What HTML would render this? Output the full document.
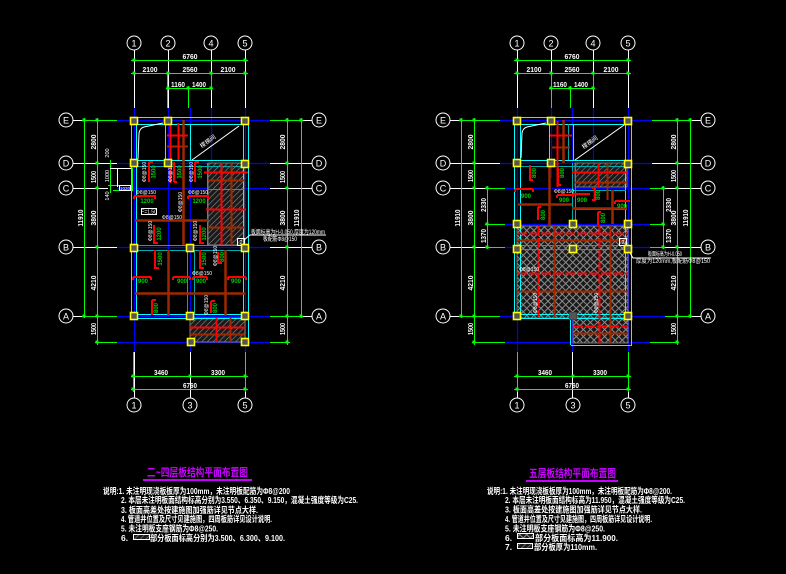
<!DOCTYPE html>
<html><head><meta charset="utf-8"><style>
html,body{margin:0;padding:0;background:#000;}
svg{display:block}
text{font-family:"Liberation Sans","Noto Sans CJK SC",sans-serif;}
</style></head><body>
<svg width="786" height="574" viewBox="0 0 786 574" xmlns="http://www.w3.org/2000/svg" xmlns:xlink="http://www.w3.org/1999/xlink">
<defs>
<pattern id="h1" width="4" height="4" patternUnits="userSpaceOnUse" patternTransform="rotate(45)">
<rect width="4" height="4" fill="#1a1a1a"/><line x1="0" y1="0" x2="0" y2="4" stroke="#8a8a8a" stroke-width="1.2"/>
</pattern>
<pattern id="h2" width="5" height="5" patternUnits="userSpaceOnUse" patternTransform="rotate(45)">
<rect width="5" height="5" fill="#1a1a1a"/><path d="M0 0.5H5M0.5 0V5" stroke="#8c8c8c" stroke-width="1" fill="none"/>
</pattern>
<rect id="tk" x="-1.5" y="-1.5" width="3" height="3" fill="#0f0"/>
<rect id="col" x="-3.5" y="-3.5" width="7" height="7" fill="#555" stroke="#ff0" stroke-width="1.6"/>
<circle id="ax" r="7" fill="#000" stroke="#fff" stroke-width="1"/>
</defs>
<rect width="786" height="574" fill="#000"/>

<!-- ================= LEFT PLAN ================= -->
<g>
<g stroke="#fff" stroke-width="1" fill="none">
<path d="M134.5 50V108 M168.5 50V108 M211.5 50V108 M245.5 50V108 M134.5 352V398 M190.5 352V398 M245.5 352V398"/>
<path d="M73 120.5H82 M303 120.5H312 M73 163.5H117 M270 163.5H312 M73 188.5H108 M270 188.5H312 M73 247.5H117 M270 247.5H312 M73 316.5H82 M303 316.5H312"/>
</g>
<g stroke="#00f" stroke-width="1.2" fill="none">
<path d="M134.5 108V352 M168.5 108V250 M190.5 108V352 M211.5 108V200 M245.5 108V352"/>
<path d="M117 120.5H270 M117 163.5H270 M117 188.5H270 M117 247.5H270 M117 316.5H270 M117 342.5H270"/>
</g>
<g stroke="#0f0" stroke-width="1" fill="none">
<path d="M131 60.5H248 M131 73.5H248 M166 88.5H213"/>
<path d="M167.5 72V108 M188.5 86V108 M211.5 72V90"/>
<path d="M84.5 118V318 M97.5 118V345 M287.5 118V345 M301.5 118V318"/>
<path d="M82 120.5H117 M270 120.5H303 M82 316.5H117 M270 316.5H303 M95 342.5H117 M270 342.5H290"/>
<path d="M131 376.5H248 M131 389.5H248 M133.5 352V392 M245.5 352V392"/>
<path d="M110.5 160V193 M132.5 168V190 M108 185.5H133 M113 190.5H133"/>
</g>
<g stroke="#fff" fill="none"><path d="M110 168.5H132 M117.5 168V187"/><rect x="119.5" y="185.5" width="11" height="5"/></g>
<text x="125" y="190" font-size="4.5" fill="#fff" text-anchor="middle">1020</text>
<g fill="#fff" font-size="5.5" text-anchor="middle">
<text transform="translate(109 153) rotate(-90)">200</text>
<text transform="translate(109 176) rotate(-90)">1000</text>
<text transform="translate(109 196) rotate(-90)">140</text>
</g>
<use href="#tk" x="134" y="60"/><use href="#tk" x="245" y="60"/>
<use href="#tk" x="134" y="73"/><use href="#tk" x="168" y="73"/><use href="#tk" x="211" y="73"/><use href="#tk" x="245" y="73"/>
<use href="#tk" x="168" y="88"/><use href="#tk" x="188" y="88"/><use href="#tk" x="211" y="88"/>
<use href="#tk" x="84" y="120"/><use href="#tk" x="84" y="316"/>
<use href="#tk" x="97" y="120"/><use href="#tk" x="97" y="163"/><use href="#tk" x="97" y="188"/><use href="#tk" x="97" y="247"/><use href="#tk" x="97" y="316"/><use href="#tk" x="97" y="342"/>
<use href="#tk" x="287" y="120"/><use href="#tk" x="287" y="163"/><use href="#tk" x="287" y="188"/><use href="#tk" x="287" y="247"/><use href="#tk" x="287" y="316"/><use href="#tk" x="287" y="342"/>
<use href="#tk" x="301" y="120"/><use href="#tk" x="301" y="316"/>
<use href="#tk" x="133" y="376"/><use href="#tk" x="190" y="376"/><use href="#tk" x="245" y="376"/><use href="#tk" x="133" y="389"/><use href="#tk" x="245" y="389"/>
<g fill="#fff" font-size="7.5" text-anchor="middle" font-weight="bold">
<text x="190" y="59" textLength="15" lengthAdjust="spacingAndGlyphs">6760</text>
<text x="150" y="72" textLength="15" lengthAdjust="spacingAndGlyphs">2100</text>
<text x="190" y="72" textLength="15" lengthAdjust="spacingAndGlyphs">2560</text>
<text x="228" y="72" textLength="15" lengthAdjust="spacingAndGlyphs">2100</text>
<text x="178" y="87" textLength="14" lengthAdjust="spacingAndGlyphs">1160</text>
<text x="199" y="87" textLength="14" lengthAdjust="spacingAndGlyphs">1400</text>
<text x="161" y="375" textLength="14" lengthAdjust="spacingAndGlyphs">3460</text>
<text x="218" y="375" textLength="14" lengthAdjust="spacingAndGlyphs">3300</text>
<text x="190" y="388" textLength="14" lengthAdjust="spacingAndGlyphs">6760</text>
<text transform="translate(83 218) rotate(-90)" textLength="17" lengthAdjust="spacingAndGlyphs">11910</text>
<text transform="translate(96 142) rotate(-90)" textLength="15" lengthAdjust="spacingAndGlyphs">2800</text>
<text transform="translate(96 177) rotate(-90)" textLength="12" lengthAdjust="spacingAndGlyphs">1500</text>
<text transform="translate(96 218) rotate(-90)" textLength="15" lengthAdjust="spacingAndGlyphs">3800</text>
<text transform="translate(96 283) rotate(-90)" textLength="15" lengthAdjust="spacingAndGlyphs">4210</text>
<text transform="translate(96 329) rotate(-90)" textLength="12" lengthAdjust="spacingAndGlyphs">1500</text>
<text transform="translate(285 142) rotate(-90)" textLength="15" lengthAdjust="spacingAndGlyphs">2800</text>
<text transform="translate(285 177) rotate(-90)" textLength="12" lengthAdjust="spacingAndGlyphs">1500</text>
<text transform="translate(285 218) rotate(-90)" textLength="15" lengthAdjust="spacingAndGlyphs">3800</text>
<text transform="translate(285 283) rotate(-90)" textLength="15" lengthAdjust="spacingAndGlyphs">4210</text>
<text transform="translate(285 329) rotate(-90)" textLength="12" lengthAdjust="spacingAndGlyphs">1500</text>
<text transform="translate(299 218) rotate(-90)" textLength="17" lengthAdjust="spacingAndGlyphs">11910</text>
</g>
<use href="#ax" x="134" y="43"/><use href="#ax" x="168" y="43"/><use href="#ax" x="211" y="43"/><use href="#ax" x="245" y="43"/>
<use href="#ax" x="134" y="405"/><use href="#ax" x="190" y="405"/><use href="#ax" x="245" y="405"/>
<use href="#ax" x="66" y="120"/><use href="#ax" x="66" y="163"/><use href="#ax" x="66" y="188"/><use href="#ax" x="66" y="247"/><use href="#ax" x="66" y="316"/>
<use href="#ax" x="319" y="120"/><use href="#ax" x="319" y="163"/><use href="#ax" x="319" y="188"/><use href="#ax" x="319" y="247"/><use href="#ax" x="319" y="316"/>
<g fill="#fff" font-size="9" text-anchor="middle">
<text x="134" y="46.5">1</text><text x="168" y="46.5">2</text><text x="211" y="46.5">4</text><text x="245" y="46.5">5</text>
<text x="134" y="408.5">1</text><text x="190" y="408.5">3</text><text x="245" y="408.5">5</text>
<text x="66" y="123.5">E</text><text x="66" y="166.5">D</text><text x="66" y="191.5">C</text><text x="66" y="250.5">B</text><text x="66" y="319.5">A</text>
<text x="319" y="123.5">E</text><text x="319" y="166.5">D</text><text x="319" y="191.5">C</text><text x="319" y="250.5">B</text><text x="319" y="319.5">A</text>
</g>
<rect x="208" y="163" width="36" height="82" fill="url(#h1)" stroke="#777"/>
<rect x="190" y="318" width="55" height="24" fill="url(#h1)" stroke="#777"/>
<g fill="none" stroke="#0ff" stroke-width="1">
<rect x="131.5" y="117.5" width="117" height="201"/>
<rect x="136.5" y="124.5" width="107" height="190"/>
<path d="M136.5 160.5H243.5 M165.5 124.5V160.5 M190.5 124.5V160.5 M248.5 318V343"/>
</g>
<g fill="none" stroke="#0aa" stroke-width="1">
<path d="M137 166.5H243 M207.5 163V245 M137 245.5H243 M137 250.5H243 M187.5 250V315 M194.5 250V315 M208 189.5H244"/>
</g>
<g fill="none" stroke="#fff" stroke-width="1">
<path d="M138 159L139 133Q140 128 144 127L163 123"/>
<path d="M192 160L239 126"/>
</g>
<text transform="translate(209 143) rotate(-36)" font-size="6" fill="#fff" text-anchor="middle">楼梯间</text>
<g fill="none" stroke="#a02800" stroke-width="2.5">
<path d="M183.5 120V245 M135 220.5H208 M135 293.5H245 M168.5 250V316 M225.5 250V316"/>
<path d="M167 146.5H188 M208 180.5H244 M208 227.5H244 M231.5 163V245 M190 334.5H246 M230.5 318V342" stroke-width="2"/>
</g>
<g fill="none" stroke="#f00" stroke-width="2">
<path d="M170.5 122V183 M178.5 123V160 M167 135.5H188"/>
<path d="M204 172.5H248 M206 209.5H246 M221.5 163V245 M190 327.5H246 M216.5 318V342"/>
<path d="M149 162V182 M149 162H153 M174 162V182 M174 182H177 M195 162V182 M195 162H199"/>
<path d="M134 196H155V199 M134 196V199 M188 196H208V199 M188 196V199"/>
<path d="M154 225V243H158 M200 225V243H204"/>
<path d="M155 250V268H159 M200 250V268H204 M218 252V263H222"/>
<path d="M133 277H151 M133 277V280 M151 277V280 M173 277H190 M173 277V280 M190 277V280 M193 277H207 M193 277V280 M207 277V280 M228 277H246 M228 277V280 M246 277V280"/>
<path d="M152 300V315 M152 300H156 M211 301V313 M211 301H215"/>
</g>
<g fill="#0c0" font-size="6" font-weight="bold" text-anchor="middle">
<text transform="translate(155.5 172) rotate(-90)">1500</text>
<text transform="translate(181.5 172) rotate(-90)">1500</text>
<text transform="translate(202 172) rotate(-90)">1500</text>
<text x="147" y="203">1200</text><text x="199" y="203">1200</text>
<text transform="translate(161 234) rotate(-90)">1200</text>
<text transform="translate(206 234) rotate(-90)">1200</text>
<text transform="translate(162 259) rotate(-90)">1500</text>
<text transform="translate(206 259) rotate(-90)">1500</text>
<text transform="translate(224 257) rotate(-90)">800</text>
<text x="143" y="283">900</text><text x="182" y="283">900</text><text x="201" y="283">900</text><text x="236" y="283">900</text>
<text transform="translate(158 308) rotate(-90)">800</text>
<text transform="translate(217 308) rotate(-90)">800</text>
</g>
<g fill="#fff" font-size="5" text-anchor="middle">
<text transform="translate(146 172) rotate(-90)">Φ8@150</text>
<text transform="translate(172 172) rotate(-90)">Φ8@150</text>
<text transform="translate(193 172) rotate(-90)">Φ8@150</text>
<text x="146" y="194">Φ8@150</text><text x="198" y="194">Φ8@150</text>
<text transform="translate(182 202) rotate(-90)">Φ8@150</text>
<text x="172" y="219">Φ8@150</text>
<text transform="translate(152 231) rotate(-90)">Φ8@150</text>
<text transform="translate(197 231) rotate(-90)">Φ8@150</text>
<text transform="translate(217 256) rotate(-90)">Φ8@150</text>
<text x="202" y="275">Φ8@150</text>
<text transform="translate(208 305) rotate(-90)">Φ8@150</text>
</g>
<rect x="141.5" y="208.5" width="15" height="6" fill="none" stroke="#fff"/>
<text x="149" y="213.5" font-size="5" fill="#fff" text-anchor="middle">F=1.50</text>
<rect x="237.5" y="238.5" width="7" height="7" fill="none" stroke="#fff"/>
<text x="241" y="244" font-size="5.5" fill="#fff" text-anchor="middle">2</text>
<path d="M244 240L250 235H326" stroke="#fff" fill="none"/>
<text x="251" y="234" font-size="6" fill="#fff" textLength="74" lengthAdjust="spacingAndGlyphs">板面标高为H-0.050,厚度为120mm</text>
<text x="263" y="241" font-size="6" fill="#fff" textLength="34" lengthAdjust="spacingAndGlyphs">板配筋Φ8@150</text>
<use href="#col" x="134" y="121"/><use href="#col" x="168" y="121"/><use href="#col" x="245" y="121"/>
<use href="#col" x="134" y="163"/><use href="#col" x="168" y="163"/><use href="#col" x="245" y="164"/>
<use href="#col" x="134" y="248"/><use href="#col" x="190" y="248"/><use href="#col" x="245" y="248"/>
<use href="#col" x="134" y="316"/><use href="#col" x="190" y="316"/><use href="#col" x="245" y="316"/>
<use href="#col" x="191" y="342"/><use href="#col" x="245" y="342"/>
</g>

<!-- ================= RIGHT PLAN ================= -->
<g>
<g stroke="#fff" stroke-width="1" fill="none">
<path d="M517.5 50V108 M551.5 50V108 M593.5 50V108 M628.5 50V108 M517.5 352V398 M572.5 352V398 M628.5 352V398"/>
<path d="M450 120.5H459 M692 120.5H701 M450 163.5H500 M652 163.5H701 M450 188.5H485 M665 188.5H701 M450 247.5H485 M665 247.5H701 M450 316.5H459 M692 316.5H701"/>
</g>
<g stroke="#00f" stroke-width="1.2" fill="none">
<path d="M517.5 108V352 M551.5 108V178 M572.5 108V352 M593.5 108V200 M628.5 108V352"/>
<path d="M500 120.5H652 M500 163.5H652 M505 188.5H650 M505 224.5H650 M505 247.5H650 M500 316.5H665 M505 342.5H650"/>
</g>
<g stroke="#0f0" stroke-width="1" fill="none">
<path d="M514 60.5H631 M514 73.5H631 M549 88.5H595"/>
<path d="M551.5 72V108 M570.5 86V108 M593.5 72V90"/>
<path d="M461.5 118V318 M474.5 118V345 M487.5 186V249 M663.5 186V249 M677.5 118V345 M690.5 118V318"/>
<path d="M459 120.5H500 M652 120.5H692 M459 316.5H500 M665 316.5H692 M472 342.5H505 M650 342.5H679 M485 224.5H505 M650 224.5H665 M485 188.5H505 M650 188.5H665 M485 247.5H505 M650 247.5H665"/>
<path d="M514 376.5H631 M514 389.5H631 M517.5 352V392 M628.5 352V392"/>
</g>
<use href="#tk" x="517" y="60"/><use href="#tk" x="628" y="60"/>
<use href="#tk" x="517" y="73"/><use href="#tk" x="551" y="73"/><use href="#tk" x="593" y="73"/><use href="#tk" x="628" y="73"/>
<use href="#tk" x="551" y="88"/><use href="#tk" x="570" y="88"/><use href="#tk" x="593" y="88"/>
<use href="#tk" x="461" y="120"/><use href="#tk" x="461" y="316"/>
<use href="#tk" x="474" y="120"/><use href="#tk" x="474" y="163"/><use href="#tk" x="474" y="188"/><use href="#tk" x="474" y="247"/><use href="#tk" x="474" y="316"/><use href="#tk" x="474" y="342"/>
<use href="#tk" x="487" y="188"/><use href="#tk" x="487" y="224"/><use href="#tk" x="487" y="247"/>
<use href="#tk" x="663" y="188"/><use href="#tk" x="663" y="224"/><use href="#tk" x="663" y="247"/>
<use href="#tk" x="677" y="120"/><use href="#tk" x="677" y="163"/><use href="#tk" x="677" y="188"/><use href="#tk" x="677" y="247"/><use href="#tk" x="677" y="316"/><use href="#tk" x="677" y="342"/>
<use href="#tk" x="690" y="120"/><use href="#tk" x="690" y="316"/>
<use href="#tk" x="517" y="376"/><use href="#tk" x="573" y="376"/><use href="#tk" x="628" y="376"/><use href="#tk" x="517" y="389"/><use href="#tk" x="628" y="389"/>
<g fill="#fff" font-size="7.5" text-anchor="middle" font-weight="bold">
<text x="572" y="59" textLength="15" lengthAdjust="spacingAndGlyphs">6760</text>
<text x="534" y="72" textLength="15" lengthAdjust="spacingAndGlyphs">2100</text>
<text x="572" y="72" textLength="15" lengthAdjust="spacingAndGlyphs">2560</text>
<text x="611" y="72" textLength="15" lengthAdjust="spacingAndGlyphs">2100</text>
<text x="560" y="87" textLength="14" lengthAdjust="spacingAndGlyphs">1160</text>
<text x="581" y="87" textLength="14" lengthAdjust="spacingAndGlyphs">1400</text>
<text x="545" y="375" textLength="14" lengthAdjust="spacingAndGlyphs">3460</text>
<text x="600" y="375" textLength="14" lengthAdjust="spacingAndGlyphs">3300</text>
<text x="572" y="388" textLength="14" lengthAdjust="spacingAndGlyphs">6760</text>
<text transform="translate(460 218) rotate(-90)" textLength="17" lengthAdjust="spacingAndGlyphs">11910</text>
<text transform="translate(473 142) rotate(-90)" textLength="15" lengthAdjust="spacingAndGlyphs">2800</text>
<text transform="translate(473 176) rotate(-90)" textLength="12" lengthAdjust="spacingAndGlyphs">1500</text>
<text transform="translate(473 218) rotate(-90)" textLength="15" lengthAdjust="spacingAndGlyphs">3800</text>
<text transform="translate(473 283) rotate(-90)" textLength="15" lengthAdjust="spacingAndGlyphs">4210</text>
<text transform="translate(473 329) rotate(-90)" textLength="12" lengthAdjust="spacingAndGlyphs">1500</text>
<text transform="translate(486 205) rotate(-90)" textLength="14" lengthAdjust="spacingAndGlyphs">2330</text>
<text transform="translate(486 236) rotate(-90)" textLength="14" lengthAdjust="spacingAndGlyphs">1370</text>
<text transform="translate(671 205) rotate(-90)" textLength="14" lengthAdjust="spacingAndGlyphs">2330</text>
<text transform="translate(671 236) rotate(-90)" textLength="14" lengthAdjust="spacingAndGlyphs">1370</text>
<text transform="translate(676 142) rotate(-90)" textLength="15" lengthAdjust="spacingAndGlyphs">2800</text>
<text transform="translate(676 176) rotate(-90)" textLength="12" lengthAdjust="spacingAndGlyphs">1500</text>
<text transform="translate(676 218) rotate(-90)" textLength="15" lengthAdjust="spacingAndGlyphs">3800</text>
<text transform="translate(676 283) rotate(-90)" textLength="15" lengthAdjust="spacingAndGlyphs">4210</text>
<text transform="translate(676 329) rotate(-90)" textLength="12" lengthAdjust="spacingAndGlyphs">1500</text>
<text transform="translate(688 218) rotate(-90)" textLength="17" lengthAdjust="spacingAndGlyphs">11910</text>
</g>
<use href="#ax" x="517" y="43"/><use href="#ax" x="551" y="43"/><use href="#ax" x="593" y="43"/><use href="#ax" x="628" y="43"/>
<use href="#ax" x="517" y="405"/><use href="#ax" x="573" y="405"/><use href="#ax" x="628" y="405"/>
<use href="#ax" x="443" y="120"/><use href="#ax" x="443" y="163"/><use href="#ax" x="443" y="188"/><use href="#ax" x="443" y="247"/><use href="#ax" x="443" y="316"/>
<use href="#ax" x="708" y="120"/><use href="#ax" x="708" y="163"/><use href="#ax" x="708" y="188"/><use href="#ax" x="708" y="247"/><use href="#ax" x="708" y="316"/>
<g fill="#fff" font-size="9" text-anchor="middle">
<text x="517" y="46.5">1</text><text x="551" y="46.5">2</text><text x="593" y="46.5">4</text><text x="628" y="46.5">5</text>
<text x="517" y="408.5">1</text><text x="573" y="408.5">3</text><text x="628" y="408.5">5</text>
<text x="443" y="123.5">E</text><text x="443" y="166.5">D</text><text x="443" y="191.5">C</text><text x="443" y="250.5">B</text><text x="443" y="319.5">A</text>
<text x="708" y="123.5">E</text><text x="708" y="166.5">D</text><text x="708" y="191.5">C</text><text x="708" y="250.5">B</text><text x="708" y="319.5">A</text>
</g>
<rect x="575" y="163" width="52" height="24" fill="url(#h1)" stroke="#777"/>
<rect x="517" y="226" width="111" height="92" fill="url(#h2)" stroke="#777"/>
<rect x="573" y="318" width="55" height="25" fill="url(#h2)" stroke="#777"/>
<g fill="none" stroke="#0ff" stroke-width="1">
<rect x="514.5" y="117.5" width="117" height="201"/>
<rect x="520.5" y="124.5" width="105" height="190"/>
<path d="M520.5 160.5H625.5 M549.5 124.5V160.5 M573.5 124.5V160.5 M631.5 318V345 M571 345.5H632 M570.5 318V345"/>
</g>
<g fill="none" stroke="#0aa" stroke-width="1">
<path d="M521 166.5H626 M568.5 124V160 M572.5 163V224 M575.5 163V224 M573 190.5H626 M575 209.5H627 M517 245.5H628 M517 249.5H628"/>
</g>
<g fill="none" stroke="#fff" stroke-width="1">
<path d="M521 158L522 133Q523 128 527 127L546 123"/>
<path d="M575 160L624 125"/>
</g>
<text transform="translate(591 144) rotate(-36)" font-size="6" fill="#fff" text-anchor="middle">楼梯间</text>
<g fill="none" stroke="#a02800" stroke-width="2.5">
<path d="M563.5 120V163 M549.5 163V226 M518 204.5H572 M572 208.5H627 M612.5 190V224"/>
<path d="M552 147.5H570 M575 182.5H627 M607.5 163V200 M517 240.5H628 M517 291.5H628 M554.5 226V318 M610.5 226V343 M573 333.5H628" stroke-width="2"/>
</g>
<g fill="none" stroke="#f00" stroke-width="2">
<path d="M557.5 121V187 M550 135.5H572"/>
<path d="M572 172.5H628 M598.5 163V187"/>
<path d="M517 233.5H628 M517 273.5H628 M573 326.5H628 M538.5 226V318 M599.5 226V343" stroke-dasharray="10 2"/>
<path d="M530 165V180H533 M558 167V185H561"/>
<path d="M515 189H533 M515 189V192 M533 189V192 M557 195H572 M557 195V198 M573 194H590 M573 194V197 M595 188V200H592 M595 188H592 M615 201H630 M615 201V204"/>
<path d="M538 207V220 M538 207H541 M598 212V225 M598 212H601"/>
</g>
<g fill="#0c0" font-size="6" font-weight="bold" text-anchor="middle">
<text transform="translate(536 173) rotate(-90)">800</text>
<text transform="translate(564 173) rotate(-90)">800</text>
<text x="526" y="198">900</text><text x="564" y="202">900</text><text x="582" y="202">900</text>
<text transform="translate(600 195) rotate(-90)">800</text>
<text x="622" y="208">900</text>
<text transform="translate(545 215) rotate(-90)">800</text>
<text transform="translate(605 218) rotate(-90)">800</text>
</g>
<g fill="#fff" font-size="5" text-anchor="middle">
<text x="564" y="193">Φ8@150</text>
<text x="529" y="271">Φ8@150</text>
<text transform="translate(537 303) rotate(-90)">Φ8@150</text>
<text transform="translate(598 303) rotate(-90)">Φ8@150</text>
</g>
<rect x="619.5" y="238.5" width="7" height="7" fill="none" stroke="#fff"/>
<text x="623" y="244" font-size="5.5" fill="#fff" text-anchor="middle">2</text>
<path d="M627 248L633 258H711" stroke="#fff" fill="none"/>
<text x="648" y="256" font-size="6" fill="#fff" textLength="34" lengthAdjust="spacingAndGlyphs">板面标高为H-0.050</text>
<text x="636" y="263" font-size="6" fill="#fff" textLength="74" lengthAdjust="spacingAndGlyphs">厚度为120mm,板配筋Φ8@150</text>
<use href="#col" x="517" y="121"/><use href="#col" x="551" y="121"/><use href="#col" x="628" y="121"/>
<use href="#col" x="517" y="163"/><use href="#col" x="551" y="163"/><use href="#col" x="628" y="164"/>
<use href="#col" x="517" y="224"/><use href="#col" x="573" y="224"/><use href="#col" x="628" y="224"/>
<use href="#col" x="517" y="249"/><use href="#col" x="573" y="249"/><use href="#col" x="628" y="249"/>
<use href="#col" x="517" y="316"/><use href="#col" x="628" y="316"/>
<rect x="569.5" y="312.5" width="7" height="7" fill="#555" stroke="#444"/>
</g>

<!-- ================= TITLES & NOTES ================= -->
<g fill="#c800ff" font-weight="bold">
<text x="147" y="476" font-size="11" textLength="101" lengthAdjust="spacingAndGlyphs">二~四层板结构平面布置图</text>
<text x="529" y="477" font-size="11" textLength="87" lengthAdjust="spacingAndGlyphs">五层板结构平面布置图</text>
</g>
<rect x="143" y="479" width="109" height="2" fill="#c800ff"/>
<rect x="526" y="480" width="92" height="2" fill="#c800ff"/>

<g fill="#fff" font-size="8.5" font-weight="bold">
<text x="103" y="494" textLength="187" lengthAdjust="spacingAndGlyphs">说明:1. 未注明现浇板板厚为100mm，未注明板配筋为Φ8@200</text>
<text x="121" y="503" textLength="237" lengthAdjust="spacingAndGlyphs">2. 本层未注明板面结构标高分别为3.550、6.350、9.150，混凝土强度等级为C25.</text>
<text x="121" y="513" textLength="137" lengthAdjust="spacingAndGlyphs">3. 板面高差处按建施图加强筋详见节点大样.</text>
<text x="121" y="522" textLength="151" lengthAdjust="spacingAndGlyphs">4. 管道井位置及尺寸见建施图，四周板筋详见设计说明.</text>
<text x="121" y="531.5" textLength="97" lengthAdjust="spacingAndGlyphs">5. 未注明板支座钢筋为Φ8@250.</text>
<text x="121" y="541">6.</text>
<text x="150" y="541" textLength="135" lengthAdjust="spacingAndGlyphs">部分板面标高分别为3.500、6.300、9.100.</text>

<text x="487" y="494" textLength="185" lengthAdjust="spacingAndGlyphs">说明:1. 未注明现浇板板厚为100mm，未注明板配筋为Φ8@200.</text>
<text x="505" y="503" textLength="180" lengthAdjust="spacingAndGlyphs">2. 本层未注明板面结构标高为11.950，混凝土强度等级为C25.</text>
<text x="505" y="512.5" textLength="137" lengthAdjust="spacingAndGlyphs">3. 板面高差处按建施图加强筋详见节点大样.</text>
<text x="505" y="522" textLength="147" lengthAdjust="spacingAndGlyphs">4. 管道井位置及尺寸见建施图，四周板筋详见设计说明.</text>
<text x="505" y="531.5" textLength="100" lengthAdjust="spacingAndGlyphs">5. 未注明板支座钢筋为Φ8@250.</text>
<text x="505" y="541">6.</text>
<text x="535" y="541" textLength="83" lengthAdjust="spacingAndGlyphs">部分板面标高为11.900.</text>
<text x="505" y="550">7.</text>
<text x="534" y="550" textLength="63" lengthAdjust="spacingAndGlyphs">部分板厚为110mm.</text>
</g>
<rect x="133.5" y="534.5" width="16" height="5" fill="url(#h1)" stroke="#fff"/>
<rect x="517.5" y="533.5" width="16" height="5" fill="url(#h2)" stroke="#fff"/>
<rect x="517.5" y="543.5" width="15" height="5" fill="url(#h1)" stroke="#fff"/>
</svg>
</body></html>
